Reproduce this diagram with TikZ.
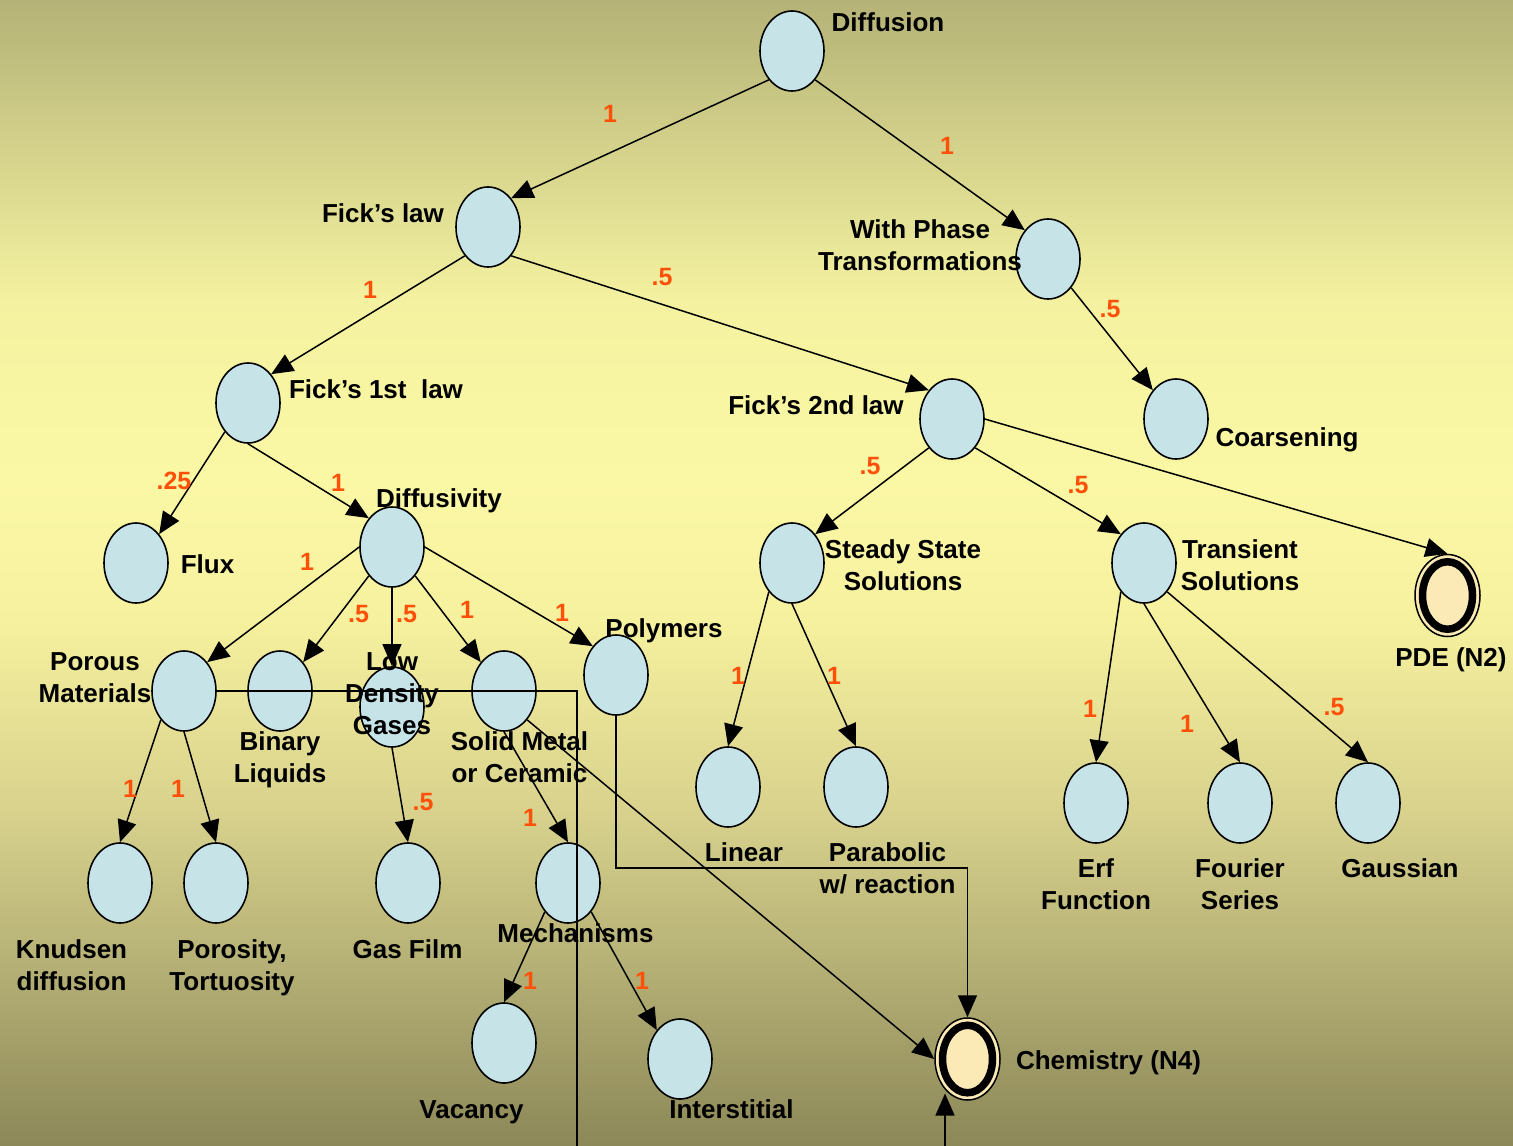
\documentclass[tikz,border=0pt]{standalone}
\usepackage{fontspec}
\setmainfont{Liberation Sans}
\usetikzlibrary{arrows.meta,shapes.geometric}

\definecolor{nodeblue}{RGB}{198,228,232}
\definecolor{termfill}{RGB}{252,234,182}
\definecolor{weightc}{RGB}{255,80,10}
\definecolor{bgA}{RGB}{180,178,118}
\definecolor{bgB}{RGB}{244,242,160}
\definecolor{bgC}{RGB}{251,248,165}
\definecolor{bgD}{RGB}{246,241,158}
\definecolor{bgE}{RGB}{214,208,140}
\definecolor{bgF}{RGB}{140,136,88}

\begin{document}
\begin{tikzpicture}[x=1pt,y=-1pt,
  topic/.style={ellipse, draw, line width=1.6pt, fill=nodeblue,
    minimum width=64pt, minimum height=80pt, inner sep=0pt},
  terminal/.style={ellipse, draw, line width=1.5pt, fill=termfill,
    minimum width=65pt, minimum height=82pt, inner sep=0pt,
    path picture={\draw[line width=7.5pt] (path picture bounding box.center)
      ellipse [x radius=25pt, y radius=33.75pt];}},
  % multi-line captions sit on the baseline of their last line
  lab/.style={font=\bfseries\fontsize{26}{32}\selectfont, inner sep=0pt,
    align=center, anchor=base},
  wt/.style={font=\bfseries\fontsize{25}{30}\selectfont, text=weightc, inner sep=0pt},
  link/.style={line width=1.5pt, -{Triangle[length=22pt,width=19pt]}},
  wire/.style={line width=1.5pt},
]
\useasboundingbox (0,0) rectangle (1513,1146);

% background bands
\shade[top color=bgA, bottom color=bgB] (0,0) rectangle (1513,301);
\shade[top color=bgB, bottom color=bgC] (0,300) rectangle (1513,481);
\shade[top color=bgC, bottom color=bgD] (0,480) rectangle (1513,621);
\shade[top color=bgD, bottom color=bgE] (0,620) rectangle (1513,821);
\shade[top color=bgE, bottom color=bgF] (0,820) rectangle (1513,1146);

% topics
\node[topic] (diff) at (792,51) {};
\node[topic] (fick) at (488,227) {};
\node[topic] (phase) at (1048,259) {};
\node[topic] (first) at (248,403) {};
\node[topic] (second) at (952,419) {};
\node[topic] (coars) at (1176,419) {};
\node[topic] (flux) at (136,563) {};
\node[topic] (dvty) at (392,547) {};
\node[topic] (steady) at (792,563) {};
\node[topic] (trans) at (1144,563) {};
\node[terminal] (pde) at (1447.5,595.5) {};
\node[topic] (porous) at (184,691) {};
\node[topic] (binary) at (280,691) {};
\node[topic] (lowd) at (392,707) {};
\node[topic] (solid) at (504,691) {};
\node[topic] (poly) at (616,675) {};
\node[topic] (linear) at (728,787) {};
\node[topic] (parab) at (856,787) {};
\node[topic] (erf) at (1096,803) {};
\node[topic] (fourier) at (1240,803) {};
\node[topic] (gauss) at (1368,803) {};
\node[topic] (knud) at (120,883) {};
\node[topic] (poros) at (216,883) {};
\node[topic] (gasf) at (408,883) {};
\node[topic] (mech) at (568,883) {};
\node[topic] (vac) at (504,1043) {};
\node[topic] (inter) at (680,1059) {};
\node[terminal] (chem) at (967.5,1059) {};

% captions
\node[lab] (tdiff) at (888,31) {Diffusion};
\node[lab] (tfick) at (383,222) {Fick’s law};
\node[lab] (tphase) at (920,270) {With Phase\\Transformations};
\node[lab] (tfirst) at (376,398) {Fick’s 1st\ \ law};
\node[lab] (tsecond) at (816,414) {Fick’s 2nd law};
\node[lab] (tcoars) at (1287,446) {Coarsening};
\node[lab] (tflux) at (207.5,573) {Flux};
\node[lab] (tdvty) at (439,507) {Diffusivity};
\node[lab] (tsteady) at (903,590) {Steady State\\Solutions};
\node[lab] (ttrans) at (1240,590) {Transient\\Solutions};
\node[lab] (tpde) at (1451,666) {PDE (N2)};
\node[lab] (tporous) at (95,702) {Porous\\Materials};
\node[lab] (tbinary) at (280,782) {Binary\\Liquids};
\node[lab] (tlowd) at (392,734) {Low\\Density\\Gases};
\node[lab] (tsolid) at (519.5,782) {Solid Metal\\or Ceramic};
\node[lab] (tpoly) at (664,637) {Polymers};
\node[lab] (tlinear) at (744,861) {Linear};
\node[lab] (tparab) at (887.5,893) {Parabolic\\w/ reaction};
\node[lab] (terf) at (1096,909) {Erf\\Function};
\node[lab] (tfourier) at (1240,909) {Fourier\\Series};
\node[lab] (tgauss) at (1400,877) {Gaussian};
\node[lab] (tknud) at (71.5,990) {Knudsen\\diffusion};
\node[lab] (tporos) at (232,990) {Porosity,\\Tortuosity};
\node[lab] (tgasf) at (407.5,958) {Gas Film};
\node[lab] (tmech) at (575.5,942) {Mechanisms};
\node[lab] (tvac) at (471.5,1118) {Vacancy};
\node[lab] (tinter) at (731.5,1118) {Interstitial};
\node[lab] (tchem) at (1108.5,1069) {Chemistry (N4)};

% weighted links
\draw[link] (diff.south west) -- (fick.north east);
\draw[link] (diff.south east) -- (phase.north west);
\draw[link] (fick.south west) -- (first.north east);
\draw[link] (fick.south east) -- (second.north west);
\draw[link] (phase.south east) -- (coars.north west);
\draw[link] (first.south west) -- (flux.north east);
\draw[link] (first.south) -- (dvty.north west);
\draw[link] (second.south west) -- (steady.north east);
\draw[link] (second.south east) -- (trans.north west);
\draw[link] (second.east) -- (pde.north);
\draw[link] (dvty.west) -- (porous.north east);
\draw[link] (dvty.south west) -- (binary.north east);
\draw[link] (dvty.south) -- (lowd.north);
\draw[link] (dvty.south east) -- (solid.north west);
\draw[link] (dvty.east) -- (poly.north west);
\draw[link] (porous.south west) -- (knud.north);
\draw[link] (porous.south) -- (poros.north);
\draw[link] (lowd.south) -- (gasf.north);
\draw[link] (solid.south) -- (mech.north);
\draw[link] (solid.south east) -- (chem.west);
\draw[link] (mech.south west) -- (vac.north);
\draw[link] (mech.south east) -- (inter.north west);
\draw[link] (steady.south west) -- (linear.north);
\draw[link] (steady.south) -- (parab.north);
\draw[link] (trans.south west) -- (erf.north);
\draw[link] (trans.south) -- (fourier.north);
\draw[link] (trans.south east) -- (gauss.north);

% routed links
\draw[link] (poly.south) -- ++(0,152) -| (chem.north);
\coordinate (porousexit) at (577,1146);
\draw[wire] (porous.east) -| (porousexit);
\coordinate (cheminlet) at (945,1146);
\draw[link, shorten >=5pt] (cheminlet) -- (cheminlet |- chem.south west);

% weights
\node[wt] (w1) at (610,114) {1};
\node[wt] (w2) at (947,146) {1};
\node[wt] (w3) at (370,290) {1};
\node[wt] (w4) at (662,277) {.5};
\node[wt] (w5) at (1110,309) {.5};
\node[wt] (w6) at (174,481) {.25};
\node[wt] (w7) at (338,483) {1};
\node[wt] (w8) at (870,466) {.5};
\node[wt] (w9) at (1078,485) {.5};
\node[wt] (w10) at (307,562) {1};
\node[wt] (w11) at (358.5,614) {.5};
\node[wt] (w12) at (406.5,614) {.5};
\node[wt] (w13) at (467,610) {1};
\node[wt] (w14) at (562,613) {1};
\node[wt] (w15) at (130,789) {1};
\node[wt] (w16) at (178,789) {1};
\node[wt] (w17) at (423,802) {.5};
\node[wt] (w18) at (530,818) {1};
\node[wt] (w19) at (530,981) {1};
\node[wt] (w20) at (642,981) {1};
\node[wt] (w21) at (738,676) {1};
\node[wt] (w22) at (834,676) {1};
\node[wt] (w23) at (1090,709) {1};
\node[wt] (w24) at (1187,724) {1};
\node[wt] (w25) at (1334,707) {.5};
\end{tikzpicture}
\end{document}
